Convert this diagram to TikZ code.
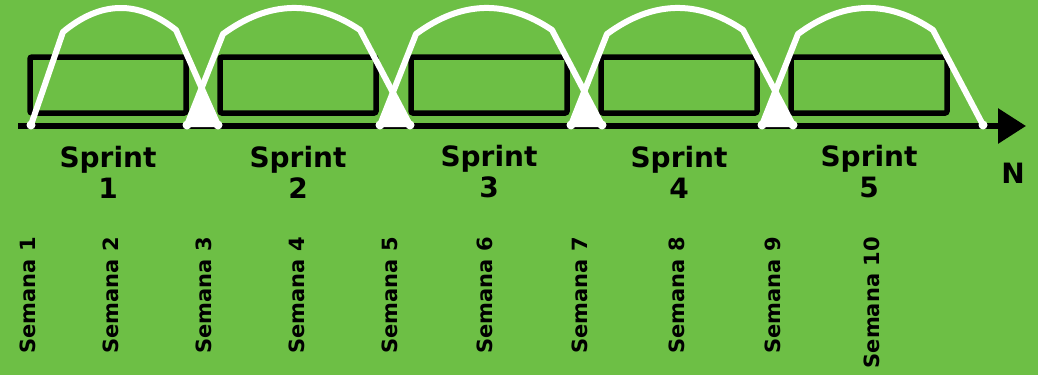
\documentclass[tikz,border=0pt]{standalone}
\usepackage{fontspec}
\setmainfont{DejaVu Sans}
\usetikzlibrary{arrows.meta,calc}
\definecolor{bg}{RGB}{109,191,69}
\tikzset{
  box/.style={draw=black,line width=5.5pt,rounded corners=2pt,minimum width=156pt,minimum height=56pt,inner sep=0pt},
  sarc/.style={draw=white,line width=6pt,line cap=round,line join=round},
  tri/.style={fill=white,draw=white,line width=4pt,line join=round},
  lbl/.style={font=\bfseries\fontsize{28}{31}\selectfont,align=center,inner sep=0pt},
  wk/.style={font=\bfseries\fontsize{21}{24}\selectfont,rotate=90,anchor=east,inner sep=0pt},
  axis/.style={line width=6pt,-{Triangle[length=28pt,width=34pt]}}
}
\begin{document}
\begin{tikzpicture}[x=1pt,y=-1pt]
\fill[bg] (0,0) rectangle (1038,375);
\useasboundingbox (0,0) rectangle (1038,375);
% axis
\coordinate (a0) at (18,126);
\coordinate (a1) at (1026,126);
\draw[axis] (a0) -- (a1);
% boxes
\foreach \i/\x in {1/108,2/298,3/489,4/679,5/869}{
  \node[box] (b\i) at (\x,85) {};
}
% arc points: start, end, left shoulder offset, right shoulder offset, left shoulder y
\foreach \i/\s/\e/\l/\r/\ly in {1/31/218/32/42/32,2/187/410/36/50/34,3/380/602/36/50/34,4/571/793/36/50/34,5/762/983/36/50/34}{
  \coordinate (s\i) at (\s,125);
  \coordinate (e\i) at (\e,125);
  \coordinate (ls\i) at (\s+\l,\ly);
  \coordinate (rs\i) at (\e-\r,30);
  \coordinate (q\i) at ({(\s+\l+\e-\r)/2},{(2-\ly)/2});
  \coordinate (c1\i) at ($(ls\i)!2/3!(q\i)$);
  \coordinate (c2\i) at ($(rs\i)!2/3!(q\i)$);
}
% crossing points
\coordinate (x1) at (201.6,88.0);
\coordinate (x2) at (392.9,92.5);
\coordinate (x3) at (584.3,91.4);
\coordinate (x4) at (775.3,91.4);
% crossing triangles
\foreach \i/\j in {1/2,2/3,3/4,4/5}{
  \fill[tri] (x\i) -- (s\j) -- (e\i) -- cycle;
}
% arcs
\foreach \i in {1,...,5}{
  \draw[sarc] (s\i) -- (ls\i) .. controls (c1\i) and (c2\i) .. (rs\i) -- (e\i);
  \fill[white] (s\i) circle (4.5pt);
  \fill[white] (e\i) circle (4.5pt);
}
% sprint labels
\foreach \i/\x in {1/108,2/298,3/489,4/679,5/869}{
  \node[lbl] (sp\i) at (\x,172) {Sprint\\\i};
}
\node[lbl] (n) at (1013,173) {N};
% week labels
\foreach \i/\x in {1/28,2/111,3/204,4/297,5/390,6/485,7/580,8/677,9/773,10/872}{
  \node[wk] (w\i) at (\x,237) {Semana \i};
}
\end{tikzpicture}
\end{document}
